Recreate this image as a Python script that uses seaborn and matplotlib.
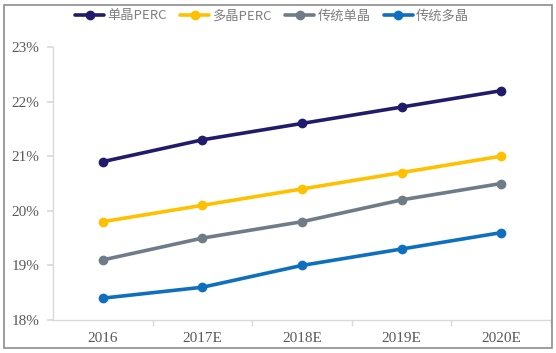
import matplotlib
matplotlib.use("Agg")
import matplotlib.pyplot as plt
import seaborn as sns
import pandas as pd
from matplotlib.patches import Rectangle
from matplotlib.ticker import FuncFormatter, FixedLocator

years = ["2016", "2017E", "2018E", "2019E", "2020E"]
mono_perc = [20.9, 21.3, 21.6, 21.9, 22.2]
multi_perc = [19.8, 20.1, 20.4, 20.7, 21.0]
trad_mono = [19.1, 19.5, 19.8, 20.2, 20.5]
trad_multi = [18.4, 18.6, 19.0, 19.3, 19.6]
series_names = ["单晶PERC", "多晶PERC", "传统单晶", "传统多晶"]
colors = ["#201C6B", "#FFC000", "#6F7C88", "#0E6FBE"]

rows = []
for name, vals in zip(series_names, [mono_perc, multi_perc, trad_mono, trad_multi]):
    for i, (y, v) in enumerate(zip(years, vals)):
        rows.append({"x": i, "year": y, "value": v, "series": name})
df = pd.DataFrame(rows)

sns.set_theme(style="white")
plt.rcParams["font.family"] = ["Liberation Serif", "Noto Sans CJK SC", "DejaVu Sans"]

fig = plt.figure(figsize=(5.56, 3.53), dpi=100)
W, H = 556, 353
ax = fig.add_axes([53 / W, 1 - 320 / H, (551 - 53) / W, (320 - 47) / H])

sns.lineplot(data=df, x="x", y="value", hue="series", hue_order=series_names,
             palette=colors, marker="o", markersize=7, markeredgewidth=0,
             linewidth=2.6, ax=ax, legend=True)

ax.set_xlim(-0.5, 4.5)
ax.set_ylim(18, 23)
ax.set_xticks(range(5))
ax.set_xticklabels(years)
ax.xaxis.set_minor_locator(FixedLocator([0.5, 1.5, 2.5, 3.5, 4.5]))
ax.set_yticks([18, 19, 20, 21, 22, 23])
ax.yaxis.set_major_formatter(FuncFormatter(lambda v, p: f"{v:.0f}%"))
ax.set_xlabel("")
ax.set_ylabel("")
for s in ["top", "right"]:
    ax.spines[s].set_visible(False)
for s in ["left", "bottom"]:
    ax.spines[s].set_color("#D9D9D9")
    ax.spines[s].set_linewidth(1.0)
ax.tick_params(axis="y", which="major", left=True, length=4, color="#D9D9D9",
               labelsize=11, labelcolor="#595959", pad=6)
ax.tick_params(axis="x", which="major", bottom=False, length=0, labelsize=11,
               labelcolor="#595959", pad=9)
ax.tick_params(axis="x", which="minor", bottom=True, length=4, color="#D9D9D9")

handles, labels = ax.get_legend_handles_labels()
ax.legend(handles, labels, loc="center", bbox_to_anchor=(272 / W, 1 - 16 / H),
          bbox_transform=fig.transFigure, ncol=4, frameon=False,
          prop={"family": ["Noto Sans CJK SC", "DejaVu Sans"], "size": 9.5},
          labelcolor="#7F7F7F", handlelength=2.2, columnspacing=1.0,
          handletextpad=0.25, borderpad=0.2)

fig.patches.append(Rectangle((4 / W, 1 - 348 / H), (552 - 4) / W, (348 - 5) / H,
                             transform=fig.transFigure, fill=False,
                             edgecolor="#8C8C8C", linewidth=1.2))

fig.savefig("out.png", dpi=100)
